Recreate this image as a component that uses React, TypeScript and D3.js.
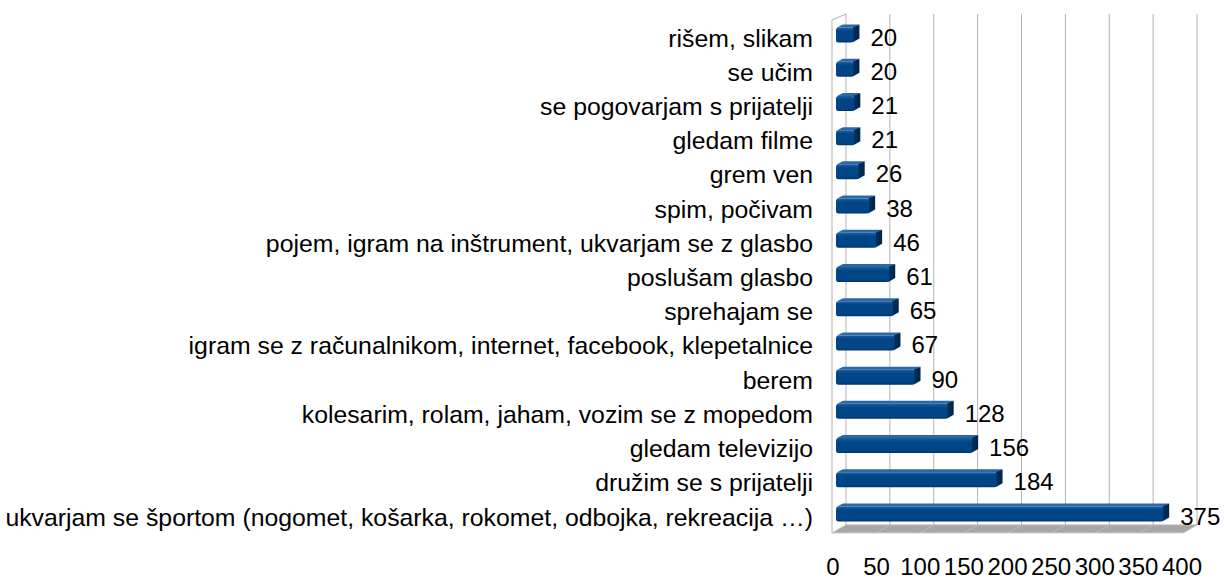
import React from 'react';
import * as d3 from 'd3';

const categories = [
  'rišem, slikam',
  'se učim',
  'se pogovarjam s prijatelji',
  'gledam filme',
  'grem ven',
  'spim, počivam',
  'pojem, igram na inštrument, ukvarjam se z glasbo',
  'poslušam glasbo',
  'sprehajam se',
  'igram se z računalnikom, internet, facebook, klepetalnice',
  'berem',
  'kolesarim, rolam, jaham, vozim se z mopedom',
  'gledam televizijo',
  'družim se s prijatelji',
  'ukvarjam se športom (nogomet, košarka, rokomet, odbojka, rekreacija …)',
];
const values = [20, 20, 21, 21, 26, 38, 46, 61, 65, 67, 90, 128, 156, 184, 375];
const tickValues = [0, 50, 100, 150, 200, 250, 300, 350, 400];

const width = 1227;
const height = 580;
const font = "'Liberation Sans', Arial, sans-serif";

// 3d box: back wall, front plane and the bars in between
const wallTop = 14;
const wallBottom = 525;
const depthY = 8;

const xBack = d3.scaleLinear().domain([0, 400]).range([846, 1197]);
const xFloor = d3.scaleLinear().domain([0, 400]).range([832, 1183]);
const xBar = d3.scaleLinear().domain([0, 400]).range([836, 1185]);
const xTick = d3.scaleLinear().domain([0, 400]).range([833, 1182]);
const y = d3.scalePoint().domain(categories).range([35, 514]);

const barH = 15;
const sideW = 6;
const sideH = 3;

export default function App() {
  const rows = categories.map((c, i) => ({ c, v: values[i] }));
  return (
    <svg width={width} height={height} style={{ position: 'absolute', left: 0, top: 0 }}>
      <defs>
        <linearGradient id="front" x1="0" y1="0" x2="0" y2="1">
          <stop offset="0" stopColor="#1d5f9f" />
          <stop offset="0.25" stopColor="#004586" />
          <stop offset="0.85" stopColor="#004586" />
          <stop offset="1" stopColor="#003466" />
        </linearGradient>
        <linearGradient id="side" x1="0" y1="0" x2="1" y2="0">
          <stop offset="0" stopColor="#00305e" />
          <stop offset="1" stopColor="#002548" />
        </linearGradient>
      </defs>

      {/* floor */}
      <polygon
        points={[
          [xFloor(0), wallBottom + depthY],
          [xBack(0), wallBottom],
          [xBack(400), wallBottom],
          [xFloor(400), wallBottom + depthY],
        ].map(p => p.join(',')).join(' ')}
        fill="#a6a6a6"
      />
      {tickValues.map(t => (
        <line key={'f' + t} x1={xBack(t)} y1={wallBottom} x2={xFloor(t)} y2={wallBottom + depthY}
          stroke="#bdbdbd" strokeWidth={1} />
      ))}
      <line x1={xFloor(0)} y1={wallBottom + depthY} x2={xFloor(400)} y2={wallBottom + depthY} stroke="#d0d0d0" />

      {/* back wall grid */}
      {tickValues.map(t => (
        <line key={'g' + t} x1={xBack(t)} y1={wallTop} x2={xBack(t)} y2={wallBottom}
          stroke="#b3b3b3" strokeWidth={1} />
      ))}
      <line x1={xBack(0)} y1={wallBottom} x2={xBack(400)} y2={wallBottom} stroke="#b3b3b3" />

      {/* left wall */}
      <polyline
        points={[
          [xFloor(0), wallBottom + depthY],
          [xFloor(0), wallTop + 6],
          [xBack(0), wallTop],
        ].map(p => p.join(',')).join(' ')}
        fill="none" stroke="#b3b3b3" strokeWidth={1}
      />

      {/* bars */}
      {rows.map(d => {
        const yc = y(d.c) as number;
        const x0 = xBar(0);
        const x1 = xBar(d.v);
        const top = yc - barH / 2;
        const side = [
          [x1 - 1, top], [x1 + sideW, top - sideH], [x1 + sideW, top - sideH + barH - 1], [x1 - 1, top + barH],
        ];
        const lid = [
          [x0 + 1, top], [x0 + sideW + 1, top - sideH], [x1 + sideW, top - sideH], [x1, top],
        ];
        return (
          <g key={d.c}>
            <polygon points={lid.map(p => p.join(',')).join(' ')} fill="#2a68a8" />
            <polygon points={side.map(p => p.join(',')).join(' ')} fill="url(#side)" />
            <rect x={x0} y={top} width={x1 - x0} height={barH} rx={2.5} fill="url(#front)" />
            <text x={x1 + 17} y={yc + 2} dominantBaseline="central" fontFamily={font} fontSize={24} fill="#000">
              {d.v}
            </text>
            <text x={813} y={yc + 3} textAnchor="end" dominantBaseline="central" fontFamily={font} fontSize={24.8} fill="#000">
              {d.c}
            </text>
          </g>
        );
      })}

      {/* x tick labels */}
      {tickValues.map(t => (
        <text key={'t' + t} x={xTick(t)} y={566} textAnchor="middle" dominantBaseline="central"
          fontFamily={font} fontSize={24} fill="#000">
          {t}
        </text>
      ))}
    </svg>
  );
}
